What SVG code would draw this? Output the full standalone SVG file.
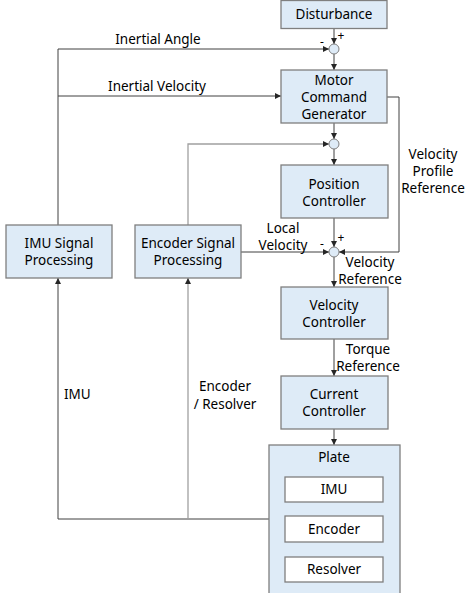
<svg xmlns="http://www.w3.org/2000/svg" width="468" height="593" viewBox="0 0 468 593">
<style>
.box{fill:#deebf7;stroke:#7f7f7f;stroke-width:1.3}
.wbox{fill:#ffffff;stroke:#7f7f7f;stroke-width:1.3}
.sum{fill:#deebf7;stroke:#7f7f7f;stroke-width:1}
.ln{fill:none;stroke:#404040;stroke-width:1}
.lg{fill:none;stroke:#a0a0a0;stroke-width:1.3}
text{font-family:"Noto Sans","Open Sans","DejaVu Sans",sans-serif;font-size:13.5px;fill:#000;text-anchor:middle}
.l{text-anchor:start}
.s{font-size:12px}
</style>
<defs>
<marker id="ah" viewBox="0 0 6 6" refX="6" refY="3" markerWidth="6" markerHeight="6" markerUnits="userSpaceOnUse" orient="auto">
<path d="M0,0 L6,3 L0,6 z" fill="#262626"/>
</marker>
</defs>
<rect width="468" height="593" fill="#ffffff"/>
<g id="connectors">
<path class="ln" d="M334,28 V44" marker-end="url(#ah)"/>
<path class="ln" d="M58,225 V49 H329" marker-end="url(#ah)"/>
<path class="ln" d="M58,96 H281" marker-end="url(#ah)"/>
<path class="ln" d="M334,54 V70" marker-end="url(#ah)"/>
<path class="ln" d="M334,123 V139" marker-end="url(#ah)"/>
<path class="lg" d="M188,225 V144 H329" marker-end="url(#ah)"/>
<path class="ln" d="M334,149 V165" marker-end="url(#ah)"/>
<path class="ln" d="M334,218 V247" marker-end="url(#ah)"/>
<path class="ln" d="M387,97 H399 V252 H339" marker-end="url(#ah)"/>
<path class="ln" d="M241,252 H329" marker-end="url(#ah)"/>
<path class="ln" d="M334,257 V287" marker-end="url(#ah)"/>
<path class="ln" d="M334,339 V376" marker-end="url(#ah)"/>
<path class="ln" d="M334,429 V445" marker-end="url(#ah)"/>
<path class="ln" d="M269,519 H58 V278" marker-end="url(#ah)"/>
<path class="lg" d="M269,519 H188 V278" marker-end="url(#ah)"/>
</g>
<g id="disturbance"><rect class="box" x="281" y="0.5" width="106" height="28"/><text x="334" y="19">Disturbance</text></g>
<g id="sum1"><circle class="sum" cx="334" cy="49" r="5"/><text class="s" x="322" y="46">-</text><text class="s" x="341" y="40">+</text></g>
<g id="motor"><rect class="box" x="281" y="70" width="106" height="53"/><text x="334" y="85">Motor</text><text x="334" y="102">Command</text><text x="334" y="119">Generator</text></g>
<g id="sum2"><circle class="sum" cx="334" cy="144" r="5"/></g>
<g id="position"><rect class="box" x="281" y="165" width="107" height="53"/><text x="334" y="189">Position</text><text x="334" y="206">Controller</text></g>
<g id="sum3"><circle class="sum" cx="334" cy="252" r="5"/><text class="s" x="322" y="248">-</text><text class="s" x="341" y="242">+</text></g>
<g id="velocity"><rect class="box" x="281" y="287" width="107" height="52"/><text x="334" y="310">Velocity</text><text x="334" y="327">Controller</text></g>
<g id="current"><rect class="box" x="281" y="376" width="107" height="53"/><text x="334" y="399">Current</text><text x="334" y="416">Controller</text></g>
<g id="imusp"><rect class="box" x="6" y="225" width="106" height="53"/><text x="59" y="248">IMU Signal</text><text x="59" y="265">Processing</text></g>
<g id="encsp"><rect class="box" x="135" y="225" width="106" height="53"/><text x="188" y="248">Encoder Signal</text><text x="188" y="265">Processing</text></g>
<g id="plate"><rect class="box" x="269" y="445" width="131" height="150"/><text x="334" y="462">Plate</text>
<rect class="wbox" x="285" y="477" width="98" height="25"/><text x="334" y="494">IMU</text>
<rect class="wbox" x="285" y="516" width="98" height="26"/><text x="334" y="534">Encoder</text>
<rect class="wbox" x="285" y="557" width="98" height="25"/><text x="334" y="574">Resolver</text></g>
<g id="labels">
<text x="158" y="44">Inertial Angle</text>
<text x="157" y="91">Inertial Velocity</text>
<text x="433" y="159">Velocity</text><text x="433" y="176">Profile</text><text x="433" y="193">Reference</text>
<text x="283" y="233">Local</text><text x="283" y="250">Velocity</text>
<text x="370" y="267">Velocity</text><text x="370" y="284">Reference</text>
<text x="368" y="354">Torque</text><text x="368" y="371">Reference</text>
<text class="l" x="64" y="399">IMU</text>
<text x="225" y="391">Encoder</text><text x="225" y="409">/ Resolver</text>
</g>
</svg>
